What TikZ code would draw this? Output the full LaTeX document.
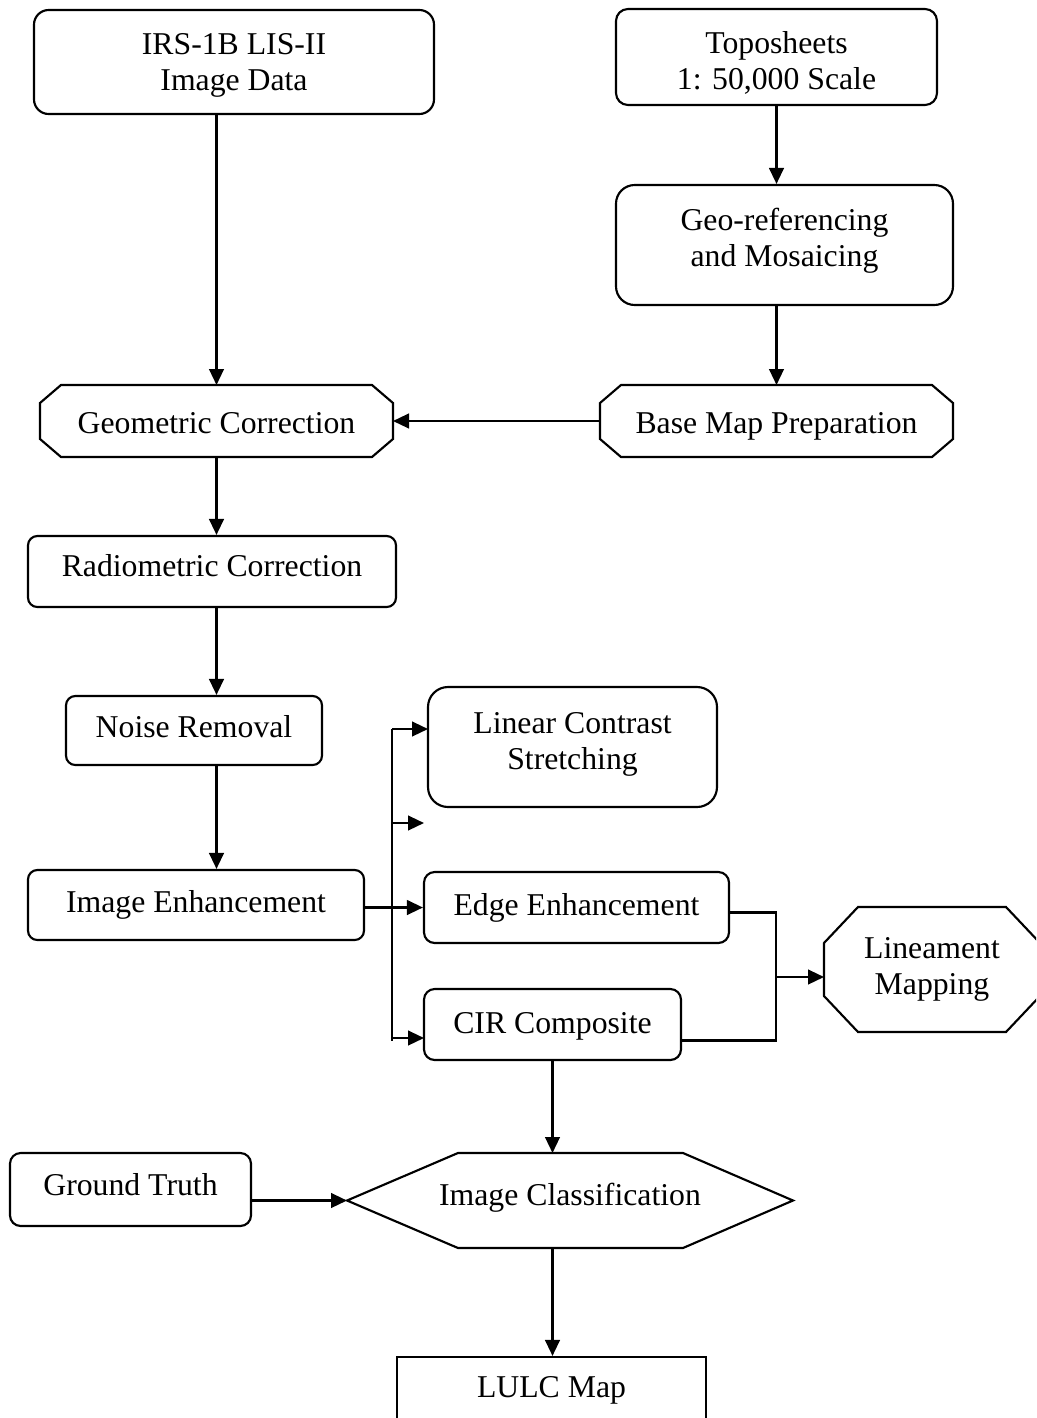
\documentclass[tikz,border=0pt]{standalone}
\usepackage{fontspec}
\setmainfont{Liberation Serif}
\usetikzlibrary{arrows.meta,calc}

% text block shifted vertically inside its box without changing the box size
\newcommand\liftup[2]{\raisebox{#1}[\height][\depth]{\begin{tabular}{@{}c@{}}#2\end{tabular}}}

% octagonal outline around an invisible frame node: node, corner dx, corner dy
\newcommand\octagonpath[3]{%
  \draw[shape line]
    ($(#1.north west)+(#2,0)$) -- ($(#1.north east)+(-#2,0)$)
    -- ($(#1.north east)+(0,#3)$) -- ($(#1.south east)+(0,-#3)$)
    -- ($(#1.south east)+(-#2,0)$) -- ($(#1.south west)+(#2,0)$)
    -- ($(#1.south west)+(0,-#3)$) -- ($(#1.north west)+(0,#3)$) -- cycle;}

\begin{document}
\begin{tikzpicture}[x=0.75pt,y=-0.75pt,
  every node/.style={font=\fontsize{23.8}{27}\selectfont},
  span/.style 2 args={minimum width=#1*0.75pt, minimum height=#2*0.75pt},
  box/.style={draw, line width=1.6pt, inner sep=0pt, align=center},
  rbox/.style={box, rounded corners=#1},
  frame/.style={inner sep=0pt, outer sep=0pt, align=center},
  shape line/.style={draw, line width=1.6pt, line join=miter},
  link/.style={line width=1.7pt, -{Triangle[length=12pt,width=11pt]}},
  wire/.style={line width=1.7pt}
]
\useasboundingbox (0,0) rectangle (1036,1418);
\clip (0,0) rectangle (1036,1418);

% ---- sources ----
\node[rbox=11pt, span={400}{104}] (irs) at (234,62) {\liftup{-2.1pt}{IRS-1B LIS-II\\Image Data}};
\node[rbox=9pt, span={321}{96}] (topo) at (776.5,57) {\liftup{-5.1pt}{Toposheets\\1: 50,000 Scale}};
\node[rbox=14pt, span={337}{120}] (georef) at (784.5,245) {\liftup{2.8pt}{Geo-referencing\\and Mosaicing}};

% ---- correction chain ----
\node[frame, span={353}{72}] (geom) at (216.5,421) {\liftup{-3.6pt}{Geometric Correction}};
\octagonpath{geom}{21}{18}
\node[frame, span={353}{72}] (base) at (776.5,421) {\liftup{-3.6pt}{Base Map Preparation}};
\octagonpath{base}{21}{18}
\node[rbox=7pt, span={368}{71}] (rad) at (212,571.5) {\liftup{2pt}{Radiometric Correction}};
\node[rbox=7pt, span={256}{69}] (noise) at (194,730.5) {\liftup{0pt}{Noise Removal}};
\node[rbox=7pt, span={336}{70}] (enh) at (196,905) {\liftup{0pt}{Image Enhancement}};

% ---- enhancement products ----
\node[rbox=15pt, span={289}{120}] (lin) at (572.5,747) {\liftup{2.4pt}{Linear Contrast\\Stretching}};
\node[rbox=8pt, span={305}{71}] (edge) at (576.5,907.5) {\liftup{-0.6pt}{Edge Enhancement}};
\node[rbox=8pt, span={257}{71}] (cir) at (552.5,1024.5) {\liftup{-1.4pt}{CIR Composite}};
\node[frame, span={216}{125}] (lmap) at (932,969.5) {\liftup{0.5pt}{Lineament\\Mapping}};
\octagonpath{lmap}{34}{36}

% ---- classification ----
\node[rbox=8pt, span={241}{73}] (ground) at (130.5,1189.5) {\liftup{0.9pt}{Ground Truth}};
\node[frame, span={446}{95}] (cls) at (570,1200.5) {\liftup{1.6pt}{Image Classification}};
\draw[shape line] (cls.west) -- ($(cls.north west)+(111,0)$) -- ($(cls.north east)+(-110,0)$)
  -- (cls.east) -- ($(cls.south east)+(-110,0)$) -- ($(cls.south west)+(111,0)$) -- cycle;
\node[box, span={309}{63}] (lulc) at (551.5,1388.5) {\liftup{-1.4pt}{LULC Map}};

% ---- connectors ----
\draw[link] (geom.north |- irs.south) -- (geom.north);
\draw[link] (topo.south) -- (topo.south |- georef.north);
\draw[link] (georef.south -| base.north) -- (base.north);
\draw[link] (base.west) -- (geom.east);
\draw[link] (geom.south) -- (geom.south |- rad.north);
\draw[link] (geom.south |- rad.south) -- (geom.south |- noise.north);
\draw[link] (geom.south |- noise.south) -- (geom.south |- enh.north);

% distribution bus out of Image Enhancement
\coordinate (busx) at (392,0);
\coordinate (linin) at (428,729);
\coordinate (spare) at (424,823);
\coordinate (cirin) at (424,1038);
\draw[wire] (busx |- linin) -- ($(busx |- cirin)+(0,3)$);
\draw[link] (busx |- linin) -- (linin);
\draw[link] (busx |- spare) -- (spare);
\draw[link] (enh.east |- edge.west) -- (edge.west);
\draw[link] (busx |- cirin) -- (cirin);

% Edge Enhancement and CIR Composite merge into Lineament Mapping
\coordinate (edgeout) at ($(edge.east)+(0,5)$);
\coordinate (cirout) at ($(cir.east)+(0,16)$);
\coordinate (joint) at (776,977);
\draw[wire] (edgeout) -| (joint) |- (cirout);
\draw[link] (joint) -- (joint -| lmap.west);

\draw[link] (cir.south) -- (cir.south |- cls.north);
\draw[link] (ground.east |- cls.west) -- (cls.west);
\draw[link] (cir.south |- cls.south) -- (cir.south |- lulc.north);
\end{tikzpicture}
\end{document}
